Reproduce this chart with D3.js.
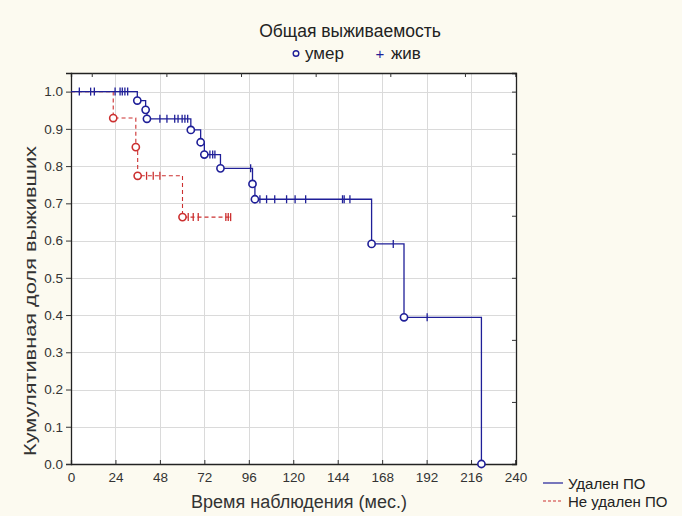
<!DOCTYPE html>
<html>
<head>
<meta charset="utf-8">
<script src="https://cdn.jsdelivr.net/npm/d3@7"></script>
<style>
  html, body { margin: 0; padding: 0; background: #fcfaf0; }
  svg { display: block; font-family: "Liberation Sans", Arial, sans-serif; }
</style>
</head>
<body>
<svg id="chart" width="682" height="516"></svg>
<script>
// ---- data ----
const xTicks = [0, 24, 48, 72, 96, 120, 144, 168, 192, 216, 240];
const yTicks = [0.0, 0.1, 0.2, 0.3, 0.4, 0.5, 0.6, 0.7, 0.8, 0.9, 1.0];
const rightTicks = [1/6, 2/6, 3/6, 4/6, 5/6, 1];
const topTicks = [11.2, 51.5, 91.8, 132.1, 172.4, 212.7];

// Удален ПО (solid blue)
const blueEventTimes  = [35.8, 40.3, 41.0, 64.7, 70.0, 72.0, 80.7, 98.0, 99.3, 162.3, 179.8, 221.6];
const blueEventValues = [0.976, 0.951, 0.927, 0.897, 0.864, 0.831, 0.794, 0.752, 0.711, 0.591, 0.394, 0.0];
const blueCensored = [4.5, 10.6, 12.6, 23.8, 26.5, 27.7, 29.1, 30.6, 48, 51.8, 56, 57.8, 60, 61.5, 63,
                      75, 76.5, 77.7, 97, 102, 105.6, 110, 116.4, 121, 126.7, 146.6, 147.5, 150.6, 174, 192.3];

// Не удален ПО (dashed red)
const redEventTimes  = [22.8, 35.0, 36.0, 60.2];
const redEventValues = [0.929, 0.851, 0.774, 0.663];
const redCensored = [40.8, 44.4, 48, 63.3, 66, 68.7, 83.6, 84.9, 86.2];

const seriesNames = ["Удален ПО", "Не удален ПО"];
const title = "Общая выживаемость";
const xLabel = "Время наблюдения (мес.)";
const yLabel = "Кумулятивная доля выживших";

// ---- chart ----
const svg = d3.select("#chart");
const blue = "#1f1f98", red = "#cc3030";
const pLeft = 71, pRight = 515.5, pTop = 73, pBottom = 464;
const x = d3.scaleLinear().domain([0, 240]).range([pLeft, pRight]);
const y = d3.scaleLinear().domain([0, 1.05]).range([pBottom, pTop]);

svg.append("rect").attr("x", pLeft).attr("y", pTop).attr("width", pRight - pLeft + 0.5).attr("height", pBottom - pTop)
  .attr("fill", "#ffffff");

// grid
svg.append("g").selectAll("line").data(xTicks.filter(d => d > 0 && d < 240)).join("line")
  .attr("x1", d => Math.round(x(d)) + 0.5).attr("x2", d => Math.round(x(d)) + 0.5)
  .attr("y1", pTop).attr("y2", pBottom).attr("stroke", "#dadada");
svg.append("g").selectAll("line").data(yTicks.filter(d => d > 0)).join("line")
  .attr("y1", d => Math.round(y(d)) + 0.5).attr("y2", d => Math.round(y(d)) + 0.5)
  .attr("x1", pLeft).attr("x2", pRight).attr("stroke", "#dadada");

// axes
const fmt = d3.format(".1f");
const gx = svg.append("g").attr("transform", `translate(0,${pBottom})`)
  .call(d3.axisBottom(x).tickValues(xTicks).tickSize(-4).tickPadding(8));
const gy = svg.append("g").attr("transform", `translate(${pLeft},0)`)
  .call(d3.axisLeft(y).tickValues(yTicks).tickFormat(fmt).tickSize(5).tickPadding(3));
const gr = svg.append("g").attr("transform", `translate(${pRight + 0.5},0)`)
  .call(d3.axisRight(y).tickValues(rightTicks).tickFormat("").tickSize(-4));
const gt = svg.append("g").attr("transform", `translate(0,${pTop})`)
  .call(d3.axisTop(x).tickValues(topTicks).tickFormat("").tickSize(-4));
[gx, gy, gr, gt].forEach(g => {
  g.select(".domain").attr("stroke", "#222").attr("stroke-width", 1.3);
  g.selectAll(".tick line").attr("stroke", "#333");
  g.selectAll(".tick text").attr("fill", "#333").style("font-size", "13.5px")
    .style("font-family", '"Liberation Sans", Arial, sans-serif');
});

// KM helper
function stepPoints(times, values, censored) {
  const pts = [[0, 1]];
  times.forEach((t, i) => pts.push([t, values[i]]));
  const lastC = d3.max(censored);
  const lastT = d3.max(times);
  if (lastC > lastT) pts.push([lastC, values[values.length - 1]]);
  return pts;
}
function survAt(times, values, t) {
  let v = 1;
  times.forEach((tt, i) => { if (tt <= t) v = values[i]; });
  return v;
}
const line = d3.line().x(d => x(d[0])).y(d => y(d[1])).curve(d3.curveStepAfter);

function drawSeries(times, values, censored, color, dash) {
  const g = svg.append("g");
  g.append("path").datum(stepPoints(times, values, censored))
    .attr("d", line).attr("fill", "none").attr("stroke", color)
    .attr("stroke-width", dash ? 1.1 : 1.3).attr("stroke-dasharray", dash ? "4,3" : null);
  g.selectAll("line.c").data(censored).join("line").attr("class", "c")
    .attr("x1", d => x(d)).attr("x2", d => x(d))
    .attr("y1", d => y(survAt(times, values, d)) - 4).attr("y2", d => y(survAt(times, values, d)) + 4)
    .attr("stroke", color).attr("stroke-width", 1.3);
  g.selectAll("circle").data(times).join("circle")
    .attr("cx", d => x(d)).attr("cy", (d, i) => y(values[i])).attr("r", 3.6)
    .attr("fill", "white").attr("stroke", color).attr("stroke-width", 1.6);
}
drawSeries(redEventTimes, redEventValues, redCensored, red, true);
drawSeries(blueEventTimes, blueEventValues, blueCensored, blue, false);

// titles
svg.append("text").attr("x", 350).attr("y", 37).attr("text-anchor", "middle")
  .style("font-size", "17.5px").attr("fill", "#222").text(title);
svg.append("circle").attr("cx", 296).attr("cy", 53.5).attr("r", 2.8)
  .attr("fill", "none").attr("stroke", blue).attr("stroke-width", 1.4);
svg.append("text").attr("x", 305).attr("y", 59).style("font-size", "17px").attr("fill", "#222").text("умер");
svg.append("text").attr("x", 380).attr("y", 58.5).attr("text-anchor", "middle")
  .style("font-size", "15px").attr("fill", blue).text("+");
svg.append("text").attr("x", 391).attr("y", 59).style("font-size", "17px").attr("fill", "#222").text("жив");

svg.append("text").attr("x", 299).attr("y", 508).attr("text-anchor", "middle")
  .style("font-size", "18px").attr("fill", "#333").text(xLabel);
svg.append("text").attr("transform", "translate(36,301) rotate(-90)").attr("text-anchor", "middle")
  .attr("textLength", 310).attr("lengthAdjust", "spacingAndGlyphs")
  .style("font-size", "17px").attr("fill", "#333").text(yLabel);

// bottom-right legend
const leg = svg.append("g");
[[blue, null, 483, 489], [red, "3,2", 501, 507]].forEach((p, i) => {
  leg.append("line").attr("x1", 543).attr("x2", 563).attr("y1", p[2]).attr("y2", p[2])
    .attr("stroke", p[0]).attr("stroke-width", 1.2).attr("stroke-dasharray", p[1]);
  leg.append("text").attr("x", 568).attr("y", p[3]).style("font-size", "15px").attr("fill", "#222")
    .text(seriesNames[i]);
});
</script>
</body>
</html>
